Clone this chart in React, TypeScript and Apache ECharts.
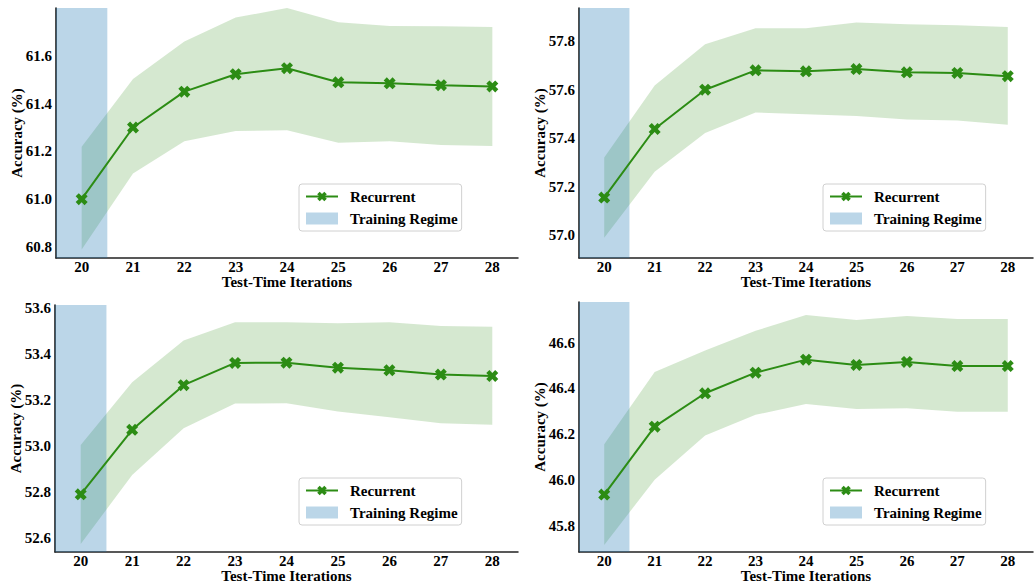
import React, { useEffect, useRef } from "react";
import * as echarts from "echarts";

// x values (test-time iterations)
const iterations = [20, 21, 22, 23, 24, 25, 26, 27, 28];
const trainingRegime = [19.5, 20.5];

// panel 1 (top-left)
const p1Mean = [61.0, 61.3, 61.45, 61.523, 61.548, 61.489, 61.485, 61.477, 61.472];
const p1Upper = [61.219, 61.503, 61.66, 61.76, 61.8, 61.74, 61.725, 61.724, 61.721];
const p1Lower = [60.79, 61.108, 61.242, 61.285, 61.289, 61.236, 61.243, 61.227, 61.223];
const p1Range = [60.754, 61.8];

// panel 2 (top-right)
const p2Mean = [57.155, 57.438, 57.6, 57.68, 57.676, 57.685, 57.672, 57.669, 57.656];
const p2Upper = [57.32, 57.617, 57.788, 57.854, 57.854, 57.877, 57.87, 57.866, 57.859];
const p2Lower = [56.99, 57.262, 57.421, 57.506, 57.499, 57.492, 57.477, 57.473, 57.456];
const p2Range = [56.906, 57.937];

// panel 3 (bottom-left)
const p3Mean = [52.79, 53.071, 53.265, 53.362, 53.363, 53.341, 53.33, 53.311, 53.305];
const p3Upper = [53.005, 53.278, 53.459, 53.539, 53.539, 53.535, 53.539, 53.523, 53.519];
const p3Lower = [52.574, 52.874, 53.078, 53.185, 53.186, 53.15, 53.125, 53.099, 53.093];
const p3Range = [52.539, 53.614];

// panel 4 (bottom-right)
const p4Mean = [45.936, 46.233, 46.379, 46.469, 46.526, 46.503, 46.516, 46.498, 46.498];
const p4Upper = [46.156, 46.472, 46.566, 46.652, 46.721, 46.699, 46.717, 46.704, 46.704];
const p4Lower = [45.716, 46.001, 46.194, 46.285, 46.332, 46.31, 46.313, 46.298, 46.298];
const p4Range = [45.685, 46.778];

const xTitle = "Test-Time Iterations";
const yTitle = "Accuracy (%)";
const lineName = "Recurrent";
const regimeName = "Training Regime";

const panels = [
  { mean: p1Mean, upper: p1Upper, lower: p1Lower, range: p1Range },
  { mean: p2Mean, upper: p2Upper, lower: p2Lower, range: p2Range },
  { mean: p3Mean, upper: p3Upper, lower: p3Lower, range: p3Range },
  { mean: p4Mean, upper: p4Upper, lower: p4Lower, range: p4Range },
];

const gridBoxes = [
  { left: 56, top: 8, width: 462, height: 250 },
  { left: 579, top: 8, width: 454, height: 250 },
  { left: 55, top: 305, width: 463, height: 247 },
  { left: 579, top: 302, width: 454, height: 250 },
];
const legendBoxes = [
  { left: 299, top: 184 },
  { left: 823, top: 184 },
  { left: 299, top: 478 },
  { left: 823, top: 478 },
];

const FONT = "'Liberation Serif', 'Times New Roman', 'DejaVu Serif', serif";
const GREEN = "#2c8c14";
const BAND = "rgba(44,140,20,0.2)";
const BLUE = "rgba(31,119,180,0.3)";
const XMARK =
  "path://M0,2.6 L2.6,0 L5,2.4 L7.4,0 L10,2.6 L7.6,5 L10,7.4 L7.4,10 L5,7.6 L2.6,10 L0,7.4 L2.4,5 Z";

export default function App() {
  const ref = useRef<HTMLDivElement>(null);
  useEffect(() => {
    if (!ref.current) return;
    const chart = echarts.init(ref.current, null, { renderer: "svg" });
    const labelFont = {
      fontFamily: FONT,
      fontWeight: "bold" as const,
      fontSize: 15,
      lineHeight: 14,
      color: "#000",
    };
    const grid: any[] = [];
    const xAxis: any[] = [];
    const yAxis: any[] = [];
    const series: any[] = [];
    const legend: any[] = [];
    panels.forEach((p, k) => {
      grid.push({ ...gridBoxes[k] });
      xAxis.push({
        type: "value",
        gridIndex: k,
        min: 19.5,
        max: 28.5,
        interval: 0.5,
        name: xTitle,
        nameLocation: "middle",
        nameGap: 17,
        nameMoveOverlap: false,
        nameTextStyle: { ...labelFont },
        axisLine: { show: true, onZero: false, lineStyle: { color: "#222", width: 1.5 } },
        axisTick: { show: false },
        splitLine: { show: false },
        axisLabel: {
          ...labelFont,
          margin: 2,
          showMinLabel: false,
          showMaxLabel: false,
          formatter: (v: number) => (Number.isInteger(v) ? String(v) : ""),
        },
      });
      yAxis.push({
        type: "value",
        gridIndex: k,
        min: p.range[0],
        max: p.range[1],
        splitNumber: 5,
        name: yTitle,
        nameLocation: "middle",
        nameGap: 32,
        nameMoveOverlap: false,
        nameTextStyle: { ...labelFont },
        axisLine: { show: true, onZero: false, lineStyle: { color: "#111", width: 1.5 } },
        axisTick: { show: false },
        splitLine: { show: false },
        axisLabel: {
          ...labelFont,
          margin: 4,
          showMinLabel: false,
          showMaxLabel: false,
          formatter: (v: number) => v.toFixed(1),
        },
      });
      const upper = p.upper;
      const lower = p.lower;
      series.push({
        type: "custom",
        name: "band" + k,
        xAxisIndex: k,
        yAxisIndex: k,
        clip: true,
        silent: true,
        data: iterations.map((x, i) => [x, lower[i], upper[i]]),
        encode: { x: 0, y: [1, 2] },
        renderItem: (params: any, api: any) => {
          if (params.dataIndex !== 0) return null;
          const pts: number[][] = [];
          iterations.forEach((x, i) => pts.push(api.coord([x, upper[i]])));
          for (let i = iterations.length - 1; i >= 0; i--)
            pts.push(api.coord([iterations[i], lower[i]]));
          return { type: "polygon", shape: { points: pts }, style: { fill: BAND } };
        },
      });
      const yr = p.range;
      series.push({
        type: "custom",
        name: regimeName,
        xAxisIndex: k,
        yAxisIndex: k,
        clip: true,
        silent: true,
        itemStyle: { color: BLUE },
        data: [[trainingRegime[0], trainingRegime[1]]],
        encode: { x: [0, 1] },
        renderItem: (params: any, api: any) => {
          const a = api.coord([api.value(0), yr[1]]);
          const b = api.coord([api.value(1), yr[0]]);
          return {
            type: "rect",
            shape: { x: a[0], y: a[1], width: b[0] - a[0], height: b[1] - a[1] },
            style: { fill: BLUE },
          };
        },
      });
      series.push({
        type: "line",
        name: lineName,
        xAxisIndex: k,
        yAxisIndex: k,
        data: iterations.map((x, i) => [x, p.mean[i]]),
        symbol: XMARK,
        symbolSize: 12,
        showAllSymbol: true,
        lineStyle: { color: GREEN, width: 2 },
        itemStyle: { color: GREEN },
        z: 5,
      });
      legend.push({
        ...legendBoxes[k],
        orient: "vertical",
        padding: [5, 4, 5, 6],
        itemGap: 7,
        itemWidth: 32,
        itemHeight: 12,
        borderColor: "#d0d0d0",
        borderWidth: 1,
        borderRadius: 3,
        backgroundColor: "rgba(255,255,255,0.8)",
        selectedMode: false,
        textStyle: { ...labelFont, lineHeight: 15, padding: [0, 0, 0, 7] },
        data: [{ name: lineName }, { name: regimeName, icon: "rect" }],
      });
    });
    chart.setOption({
      animation: false,
      backgroundColor: "#fff",
      grid,
      xAxis,
      yAxis,
      series,
      legend,
    });
    return () => chart.dispose();
  }, []);
  return (
    <div
      ref={ref}
      style={{ position: "fixed", left: 0, top: 0, width: 1034, height: 585 }}
    />
  );
}
